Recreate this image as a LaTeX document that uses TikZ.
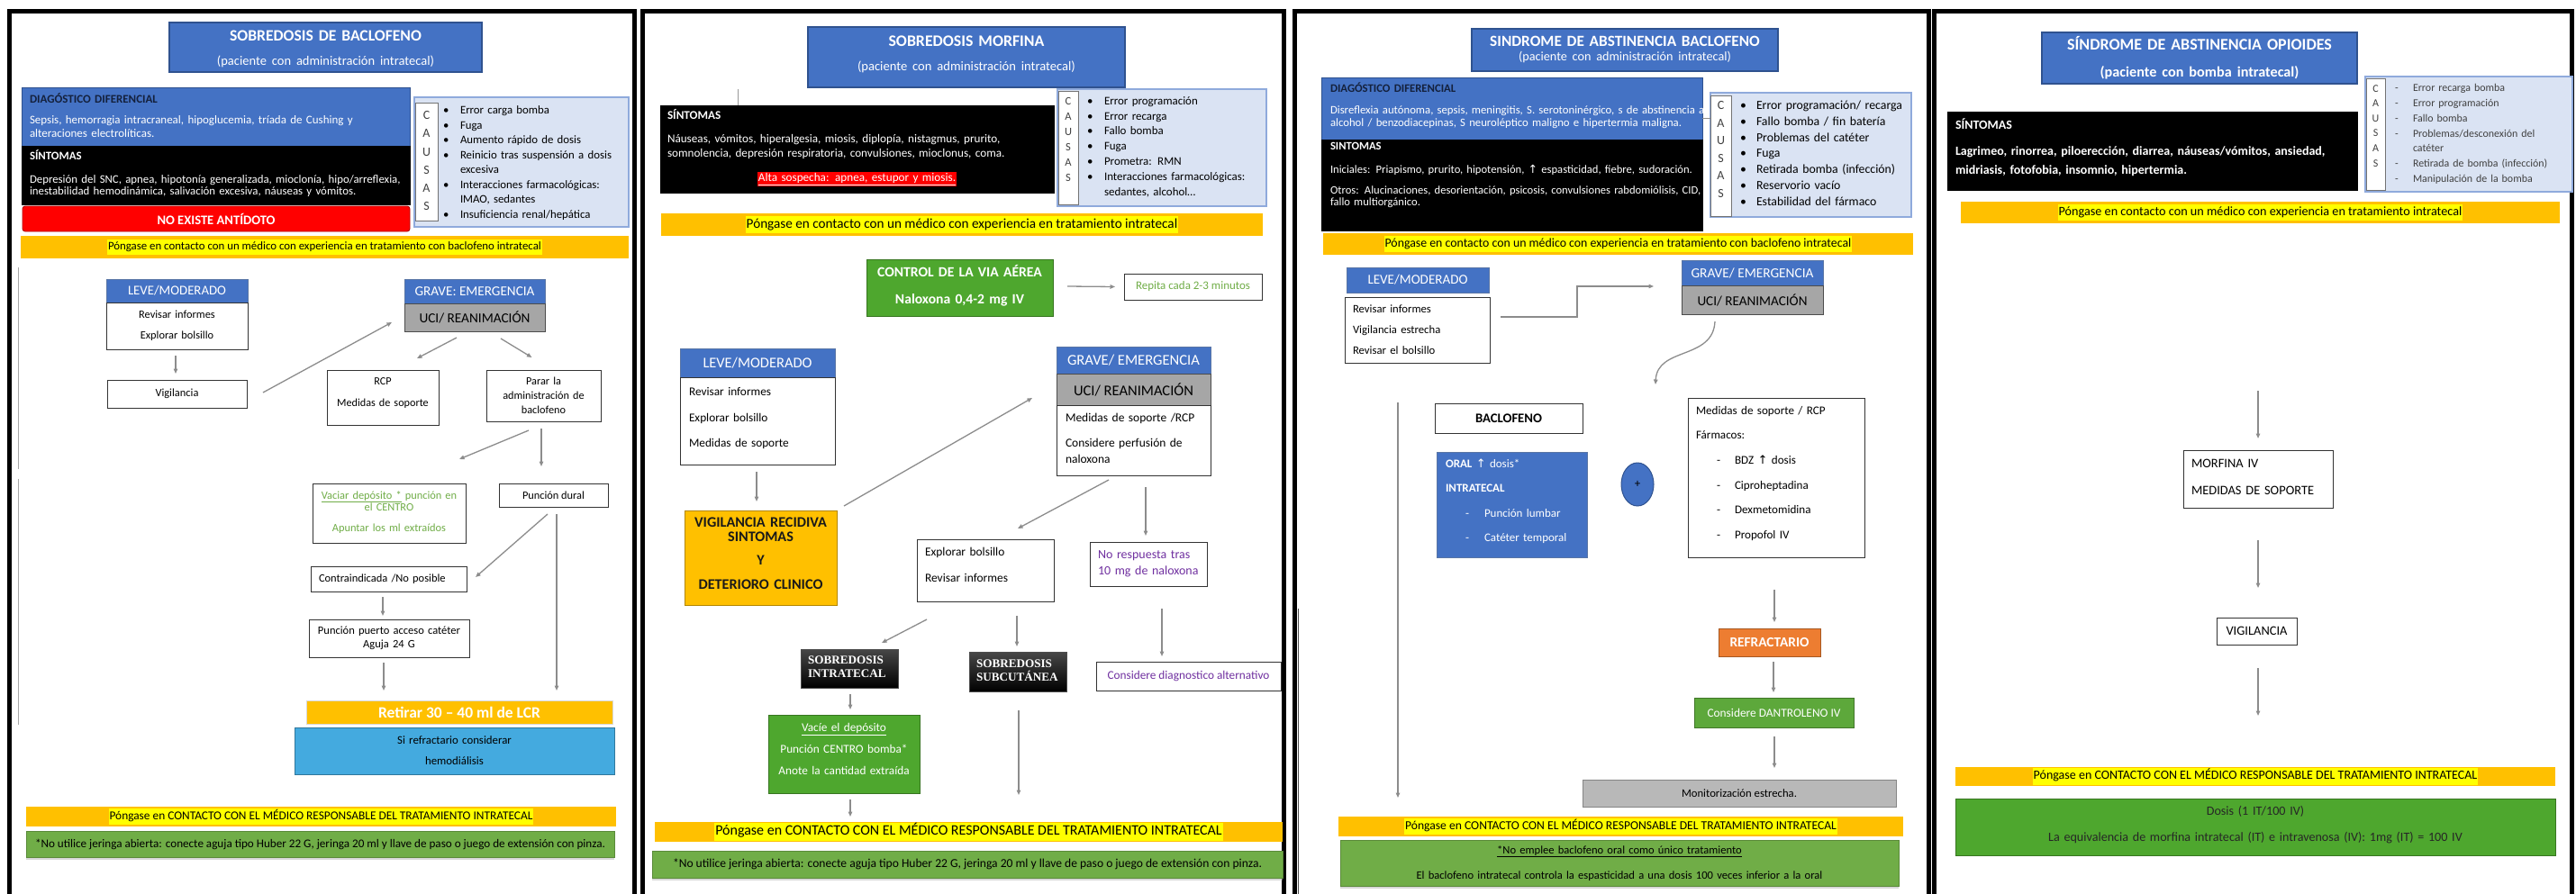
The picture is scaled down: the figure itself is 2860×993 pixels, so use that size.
\documentclass[tikz,border=0pt]{standalone}
\usepackage{fontspec}
\setmainfont{Carlito}
\newfontfamily\djv{DejaVu Sans}
\newfontfamily\lsr{Liberation Serif}
\usetikzlibrary{arrows.meta,shapes.geometric,shadows}
\definecolor{bblue}{HTML}{4472C4}
\definecolor{dblue}{HTML}{2F528F}
\definecolor{orng}{HTML}{FFC000}
\definecolor{hyel}{HTML}{FFFF00}
\definecolor{olive}{HTML}{70AD47}
\definecolor{bgreen}{HTML}{4EA72E}
\definecolor{mgreen}{HTML}{5DA83B}
\definecolor{sky}{HTML}{44AADF}
\definecolor{gry}{HTML}{A6A6A6}
\definecolor{redo}{HTML}{ED7D31}
\definecolor{purp}{HTML}{7030A0}
\definecolor{cfill}{HTML}{DAE3F3}
\definecolor{cline}{HTML}{8FAADC}
\definecolor{navy}{HTML}{14213D}
\definecolor{arrc}{HTML}{8C8C8C}
\definecolor{dgray}{HTML}{404040}
\definecolor{bred}{HTML}{FF0000}
\newcommand\fs[2]{\fontsize{#1}{#2}\selectfont}
\newcommand\setfit[3]{\setbox0\hbox{\fontsize{10}{12}\selectfont#2}\pgfmathsetmacro\fsz{10*#1/\the\wd0}\fontsize{\fsz}{#3}\selectfont}
\newcommand\FW[2]{{\setbox0\hbox{\fontsize{10}{12}\selectfont#2}\pgfmathsetmacro\fsz{10*#1/\the\wd0}\pgfmathsetmacro\fbs{1.2*\fsz}\fontsize{\fsz}{\fbs}\selectfont#2}}
\newcommand\hl[1]{{\setlength\fboxsep{0.8pt}\colorbox{hyel}{\strut #1}}}
\newcommand\up{{\djv ↑}}
\newcommand\bul[1][19pt]{\makebox[#1][l]{\textbullet}}
\newcommand\ind[1][19pt]{\hspace*{#1}}
\newcommand\dsh{\makebox[20pt][l]{-}}
\newcommand\Bx[7][]{\node[rbox,#1,minimum width={#5-#3},minimum height={#6-#4}] (#2) at ({(#3+#5)/2},{(#4+#6)/2}) {#7};}
\newcommand\Tx[5][]{\node[tx,#1] (#2) at (#3,#4) {#5};}
\begin{document}
\begin{tikzpicture}[x=1pt,y=-1pt,
 rbox/.style={draw=black!80,line width=0.9pt,fill=white,inner sep=0pt,outer sep=0pt},
 tx/.style={anchor=base west,inner sep=0pt,outer sep=0pt,align=left,text width=460pt},
 txc/.style={anchor=base,align=center,text width=700pt},
 arr/.style={draw=arrc,line width=1.3pt,-{Triangle[length=5.5pt,width=4.5pt]}},
 frame/.style={line width=5pt,draw=black},
 shd/.style={drop shadow={shadow xshift=0pt,shadow yshift=-3pt,fill=black!30}},
 blk/.style={top color=black!72,middle color=black,bottom color=black,draw=black!70}]
\useasboundingbox (0,0) rectangle (2860,993);
% ---------- frames
\draw[frame] (10,993) -- (10,12) -- (704,12) -- (704,993);
\draw[frame] (713,993) -- (713,12) -- (1425,12) -- (1425,993);
\draw[frame] (1437,993) -- (1437,12) -- (2141,12) -- (2141,993);
\draw[frame] (2147,993) -- (2147,12) -- (2855,12) -- (2855,993);
\draw[line width=0.8pt,black!35] (20,297) -- (20,521) (20,532) -- (20,805);
\draw[line width=0.8pt,black!70] (1441,676) -- (1441,993);
% =============== PANEL 1
\Bx[fill=bblue,draw=dblue,line width=1.5pt]{t1}{188}{25}{535}{80}{}
\Tx[txc,font={\bfseries\setfit{209}{SOBREDOSIS DE BACLOFENO}{26.6}},text=white]{t1t}{361.5}{45.5}{SOBREDOSIS DE BACLOFENO\\\mdseries\setfit{249}{(paciente con administración intratecal)}{26.6}(paciente con administración intratecal)}
\Bx[fill=bblue,draw=dblue]{dd1}{24}{97}{455}{162}{}
\Tx[font={\setfit{349}{Sepsis, hemorragia intracraneal, hipoglucemia, tríada de Cushing y}{15}},text=white]{dd1t}{33}{114}{\textcolor{navy}{\bfseries DIAGÓSTICO DIFERENCIAL}\\[8pt]Sepsis, hemorragia intracraneal, hipoglucemia, tríada de Cushing y\\alteraciones electrolíticas.}
\Bx[fill=black,draw=black]{s1}{24}{162}{455}{227}{}
\Tx[font={\setfit{402}{Depresión del SNC, apnea, hipotonía generalizada, mioclonía, hipo/arreflexia,}{13}},text=white]{s1t}{33}{177}{\textbf{SÍNTOMAS}\\[13pt]Depresión del SNC, apnea, hipotonía generalizada, mioclonía, hipo/arreflexia,\\inestabilidad hemodinámica, salivación excesiva, náuseas y vómitos.}
\Bx[fill=bred,draw=bred!70!black,rounded corners=3pt,font=\bfseries,text=white]{na1}{25}{229}{455}{257}{\FW{131}{NO EXISTE ANTÍDOTO}}
\Bx[fill=cfill,draw=cline,line width=1.2pt]{c1}{460}{108}{698}{252}{}
\Bx[draw=black!55,line width=0.7pt]{c1s}{461}{114}{486}{245}{}
\Tx[txc,text width=20pt,font=\fs{14}{20.2},text=dgray]{c1l}{473.5}{132.6}{C\\A\\U\\S\\A\\S}
\Tx[font={\setfit{130}{Aumento rápido de dosis}{16.57}}]{c1i}{492}{126.5}{\bul Error carga bomba\\\bul Fuga\\\bul Aumento rápido de dosis\\\bul\makebox[177pt][s]{Reinicio tras suspensión a dosis}\\\ind excesiva\\\bul\makebox[177pt][s]{Interacciones farmacológicas:}\\\ind IMAO, sedantes\\\bul Insuficiencia renal/hepática}
\Bx[fill=orng,draw=none]{o1}{23}{262}{698}{287}{\FW{483}{\hl{Póngase en contacto con un médico con experiencia en tratamiento con baclofeno intratecal}}}
\Bx[fill=bblue,draw=dblue!80,text=white]{lh1}{118}{310}{275}{336}{\FW{109}{LEVE/MODERADO}}
\Bx{lb1}{118}{336}{275}{388}{}
\Tx[txc,font={\setfit{80}{Explorar bolsillo}{23}}]{lb1t}{196.5}{353.3}{Revisar informes\\Explorar bolsillo}
\Bx{v1}{119}{422}{274}{453}{\FW{48}{Vigilancia}}
\Bx[fill=bblue,draw=dblue!80,text=white]{gh1}{449}{310}{605}{337}{\FW{133}{GRAVE: EMERGENCIA}}
\Bx[fill=gry,draw=black!70]{uci1}{449}{337}{605}{368}{\FW{123}{UCI/ REANIMACIÓN}}
\Bx{rcp1}{363}{411}{487}{472}{}
\Tx[txc,font={\setfit{99}{Medidas de soporte}{24}}]{rcp1t}{425}{427.2}{RCP\\Medidas de soporte}
\Bx{par1}{540}{411}{667}{468}{}
\Tx[txc,font={\setfit{89}{administración de}{16}}]{par1t}{603.5}{427.2}{Parar la\\administración de\\baclofeno}
\Bx{vac1}{347}{537}{517}{603}{}
\Tx[txc,font={\setfit{145}{Vaciar depósito * punción en}{13}},text=olive]{vac1t}{432}{554.2}{\underline{Vaciar depósito *} punción en\\el CENTRO\\[10pt]Apuntar los ml extraídos}
\Bx{dur1}{554}{537}{675}{563}{\FW{69}{Punción dural}}
\Bx{con1}{345}{629}{518}{657}{}
\Tx[font={\setfit{138}{Contraindicada /No posible}{13}}]{con1t}{354}{646.2}{Contraindicada /No posible}
\Bx{pue1}{343}{688}{521}{730}{}
\Tx[txc,font={\setfit{154}{Punción puerto acceso catéter}{15}}]{pue1t}{432}{704.2}{Punción puerto acceso catéter\\Aguja 24 G}
\Bx[fill=orng,draw=black!15,font=\bfseries,text=white]{ret1}{340}{778}{680}{804}{\FW{180}{Retirar 30 – 40 ml de LCR}}
\Bx[fill=sky,draw=sky!70!black]{rf1}{327}{808}{682}{860}{}
\Tx[txc,font={\setfit{124}{Si refractario considerar}{23}}]{rf1t}{504.5}{826}{Si refractario considerar\\hemodiálisis}
\Bx[fill=orng,draw=none]{bo1}{29}{896}{684}{918}{\FW{472}{\hl{Póngase en CONTACTO CON EL MÉDICO RESPONSABLE DEL TRATAMIENTO INTRATECAL}}}
\Bx[fill=olive,draw=olive!80!black,shd]{gr1}{29}{923}{682}{952}{\FW{633}{*No utilice jeringa abierta: conecte aguja tipo Huber 22 G, jeringa 20 ml y llave de paso o juego de extensión con pinza.}}
% arrows P1
\draw[arr] ([shift={(-1.5,7)}]lb1.south) -- ([shift={(-1.5,-7)}]v1.north);
\draw[arr] ([shift={(18,-1.5)}]v1.east) -- ([shift={(-14,5.5)}]uci1.west);
\draw[arr] ([shift={(-20,7)}]uci1.south) -- ([shift={(38,-13)}]rcp1.north);
\draw[arr] ([shift={(29,8)}]uci1.south) -- ([shift={(-13,-14)}]par1.north);
\draw[arr] ([shift={(-16.5,10)}]par1.south) -- ([shift={(78,-27)}]vac1.north);
\draw[arr] ([shift={(-2.5,8)}]par1.south) -- ([shift={(-13.5,-19)}]dur1.north);
\draw[arr] ([shift={(-6.5,8)}]dur1.south) -- ([shift={(10,-2)}]con1.east);
\draw[arr] ([shift={(3.5,8)}]dur1.south) -- ([shift={(108,-11)}]ret1.north);
\draw[arr] ([shift={(-6.5,6)}]con1.south) -- ([shift={(-7,-4)}]pue1.north);
\draw[arr] ([shift={(-6,6)}]pue1.south) -- ([shift={(-84,-11)}]ret1.north);
% =============== PANEL 2
\Bx[fill=bblue,draw=dblue,line width=1.5pt]{t2}{897}{30}{1249}{97}{}
\Tx[txc,font={\bfseries\setfit{171}{SOBREDOSIS MORFINA}{26.5}},text=white]{t2t}{1073}{51.5}{SOBREDOSIS MORFINA\\\mdseries\setfit{250}{(paciente con administración intratecal)}{26.5}(paciente con administración intratecal)}
\Bx[fill=black,draw=black]{s2}{733}{117}{1170}{214}{}
\Tx[font={\setfit{361}{Náuseas, vómitos, hiperalgesia, miosis, diplopía, nistagmus, prurito,}{16}},text=white]{s2t}{741}{132.5}{\textbf{SÍNTOMAS}\\[10pt]Náuseas, vómitos, hiperalgesia, miosis, diplopía, nistagmus, prurito,\\somnolencia, depresión respiratoria, convulsiones, mioclonus, coma.\\[11pt]\makebox[421pt]{{\setlength\fboxsep{1pt}\colorbox{bred}{\underline{Alta sospecha: apnea, estupor y miosis.}}}}}
\draw[line width=0.8pt,black!40] ([shift={(-132.5,0)}]s2.north) -- ++(0,-18);
\Bx[fill=cfill,draw=cline,line width=1.2pt]{c2}{1174}{99}{1406}{229}{}
\Bx[draw=black!55,line width=0.7pt]{c2s}{1175}{101}{1197}{227}{}
\Tx[txc,text width=20pt,font=\fs{12.5}{17},text=dgray]{c2l}{1186}{116.1}{C\\A\\U\\S\\A\\S}
\Tx[font={\setfit{155}{Interacciones farmacológicas:}{16.8}}]{c2i}{1207}{116.3}{\bul Error programación\\\bul Error recarga\\\bul Fallo bomba\\\bul Fuga\\\bul Prometra: RMN\\\bul Interacciones farmacológicas:\\\ind sedantes, alcohol…}
\Bx[fill=orng,draw=none]{o2}{734}{237}{1402}{262}{\FW{481}{\hl{Póngase en contacto con un médico con experiencia en tratamiento intratecal}}}
\Bx[fill=bgreen,draw=bgreen!70!black]{ct2}{962}{288}{1169}{351}{}
\Tx[txc,font={\bfseries\setfit{176}{CONTROL DE LA VIA AÉREA}{30}},text=white]{ct2t}{1065.5}{307.8}{CONTROL DE LA VIA AÉREA\\Naloxona 0,4-2 mg IV}
\Bx[text=olive]{rp2}{1248}{304}{1401}{333}{\FW{127}{Repita cada 2-3 minutos}}
\Bx[fill=bblue,draw=dblue!80,text=white]{lh2}{755}{387}{927}{419}{\FW{121}{LEVE/MODERADO}}
\Bx{lb2}{755}{419}{927}{516}{}
\Tx[font={\setfit{108}{Medidas de soporte}{28.5}}]{lb2t}{765}{439.5}{Revisar informes\\Explorar bolsillo\\Medidas de soporte}
\Bx[fill=bblue,draw=dblue!80,text=white]{gh2}{1173}{385}{1344}{415}{\FW{147}{GRAVE/ EMERGENCIA}}
\Bx[fill=gry,draw=black!70]{uci2}{1173}{415}{1344}{450}{\FW{133}{UCI/ REANIMACIÓN}}
\Bx{gb2}{1173}{450}{1344}{528}{}
\Tx[font={\setfit{139}{Medidas de soporte /RCP}{18}}]{gb2t}{1183}{468.5}{Medidas de soporte /RCP\\[10pt]Considere perfusión de\\naloxona}
\Bx[fill=orng,draw=orng!70!black]{vg2}{760}{567}{929}{672}{}
\Tx[txc,font={\bfseries\setfit{145}{VIGILANCIA RECIDIVA}{16}},text=black!90]{vg2t}{844.5}{585.5}{VIGILANCIA RECIDIVA\\SINTOMAS\\[10pt]Y\\[11pt]DETERIORO CLINICO}
\Bx{ex2}{1018}{599}{1170}{668}{}
\Tx[font={\setfit{87}{Explorar bolsillo}{29}}]{ex2t}{1027}{617.5}{Explorar bolsillo\\Revisar informes}
\Bx{nr2}{1210}{602}{1340}{651}{}
\Tx[font={\setfit{107}{10 mg de naloxona}{18}},text=purp]{nr2t}{1219}{620.3}{No respuesta tras\\10 mg de naloxona}
\Bx[text=purp]{cd2}{1217}{735}{1422}{767}{\FW{180}{Considere diagnostico alternativo}}
\Bx[blk]{in2}{889}{721}{997}{764}{}
\Tx[font={\lsr\bfseries\setfit{84}{SOBREDOSIS}{15}},text=white]{in2t}{897}{737}{SOBREDOSIS\\INTRATECAL}
\Bx[blk]{sc2}{1076}{724}{1184}{768}{}
\Tx[font={\lsr\bfseries\setfit{84}{SOBREDOSIS}{15}},text=white]{sc2t}{1084}{741}{SOBREDOSIS\\SUBCUTÁNEA}
\Bx[fill=bgreen,draw=bgreen!70!black]{va2}{853}{794}{1021}{881}{}
\Tx[txc,font={\setfit{141}{Anote la cantidad extraída}{24}},text=white]{va2t}{937}{812.3}{\underline{Vacíe el depósito}\\Punción CENTRO bomba*\\Anote la cantidad extraída}
\Bx[fill=orng,draw=none]{bo2}{727}{913}{1424}{935}{\FW{565}{\hl{Póngase en CONTACTO CON EL MÉDICO RESPONSABLE DEL TRATAMIENTO INTRATECAL}}}
\Bx[fill=olive,draw=olive!80!black,shd]{gr2}{724}{945}{1424}{975}{\FW{654}{*No utilice jeringa abierta: conecte aguja tipo Huber 22 G, jeringa 20 ml y llave de paso o juego de extensión con pinza.}}
% arrows P2
\draw[arr] ([shift={(16,-1.5)}]ct2.east) -- ([shift={(-10,0)}]rp2.west);
\draw[arr] ([shift={(-1,8)}]lb2.south) -- ([shift={(-4.5,-10)}]vg2.north);
\draw[arr] ([shift={(8,-5)}]vg2.north east) -- ([shift={(-27,9.5)}]uci2.west);
\draw[arr] ([shift={(-27.5,5)}]gb2.south) -- ([shift={(36,-12)}]ex2.north);
\draw[arr] ([shift={(13.5,13)}]gb2.south) -- ([shift={(-3,-7)}]nr2.north);
\draw[arr] ([shift={(15,25)}]nr2.south) -- ([shift={(-29.5,-6)}]cd2.north);
\draw[arr] ([shift={(-65,20)}]ex2.south) -- ([shift={(36,-7)}]in2.north);
\draw[arr] ([shift={(35,16)}]ex2.south) -- ([shift={(-1,-6)}]sc2.north);
\draw[arr] ([shift={(1,7)}]in2.south) -- ([shift={(7,-6)}]va2.north);
\draw[arr] ([shift={(7,7)}]va2.south) -- ([shift={(-131.5,-6)}]bo2.north);
\draw[arr] ([shift={(1,21)}]sc2.south) -- ([shift={(55.5,-30)}]bo2.north);
% =============== PANEL 3
\Bx[fill=bblue,draw=dblue,line width=1.5pt]{t3}{1634}{32}{1974}{79}{}
\Tx[txc,font={\bfseries\setfit{294}{SINDROME DE ABSTINENCIA BACLOFENO}{16.6}},text=white]{t3t}{1804}{51.3}{SINDROME DE ABSTINENCIA BACLOFENO\\\mdseries\setfit{243}{(paciente con administración intratecal)}{16.6}(paciente con administración intratecal)}
\Bx[fill=bblue,draw=dblue]{dd3}{1467}{86}{1890}{155}{}
\Tx[font={\setfit{403}{Disreflexia autónoma, sepsis, meningitis, S. serotoninérgico, s de abstinencia a}{14}},text=white]{dd3t}{1477}{102}{\textcolor{navy}{\bfseries DIAGÓSTICO DIFERENCIAL}\\[10pt]Disreflexia autónoma, sepsis, meningitis, S. serotoninérgico, s de abstinencia a\\alcohol / benzodiacepinas, S neuroléptico maligno e hipertermia maligna.}
\Bx[fill=black,draw=black]{s3}{1467}{155}{1890}{256}{}
\Tx[font={\setfit{402}{Otros: Alucinaciones, desorientación, psicosis, convulsiones rabdomiólisis, CID,}{13}},text=white]{s3t}{1477}{166}{\textbf{SINTOMAS}\\[13pt]Iniciales: Priapismo, prurito, hipotensión, \up{} espasticidad, fiebre, sudoración.\\[10pt]Otros: Alucinaciones, desorientación, psicosis, convulsiones rabdomiólisis, CID,\\fallo multiorgánico.}
\Bx[fill=cfill,draw=cline,line width=1.2pt]{c3}{1899}{103}{2122}{241}{}
\Bx[draw=black!55,line width=0.7pt]{c3s}{1899}{106}{1922}{240}{}
\Tx[txc,text width=20pt,font=\fs{14}{19.5},text=dgray]{c3l}{1910.5}{121.6}{C\\A\\U\\S\\A\\S}
\Tx[font={\setfit{159}{Error programación/ recarga}{17.8}}]{c3i}{1932}{121.5}{\bul[18pt]Error programación/ recarga\\\bul[18pt]Fallo bomba / fin batería\\\bul[18pt]Problemas del catéter\\\bul[18pt]Fuga\\\bul[18pt]Retirada bomba (infección)\\\bul[18pt]Reservorio vacío\\\bul[18pt]Estabilidad del fármaco}
\draw[line width=1pt,black!45] ([shift={(0,10.5)}]dd3.east) -- ++(9,0);
\Bx[fill=orng,draw=none]{o3}{1469}{259}{2124}{283}{\FW{520}{\hl{Póngase en contacto con un médico con experiencia en tratamiento con baclofeno intratecal}}}
\Bx[fill=bblue,draw=dblue!80,text=white]{lh3}{1495}{297}{1653}{325}{\FW{111}{LEVE/MODERADO}}
\Bx{lb3}{1493}{330}{1654}{403}{}
\Tx[font={\setfit{96}{Vigilancia estrecha}{23}}]{lb3t}{1502}{347.3}{Revisar informes\\Vigilancia estrecha\\Revisar el bolsillo}
\Bx[fill=bblue,draw=dblue!80,text=white]{gh3}{1867}{289}{2024}{317}{\FW{136}{GRAVE/ EMERGENCIA}}
\Bx[fill=gry,draw=black!70]{uci3}{1867}{317}{2024}{349}{\FW{122}{UCI/ REANIMACIÓN}}
\Bx[font=\bfseries]{bac3}{1593}{448}{1757}{481}{\FW{74}{BACLOFENO}}
\Bx[fill=bblue,draw=dblue!80]{or3}{1595}{502}{1762}{619}{}
\Tx[font={\setfit{90}{Catéter temporal}{27.3}},text=white]{or3t}{1605}{519.5}{\textbf{ORAL} \up{} dosis*\\\textbf{INTRATECAL}\\\hspace*{22pt}\makebox[21pt][l]{-}Punción lumbar\\\hspace*{22pt}\makebox[21pt][l]{-}Catéter temporal}
\node[ellipse,fill=bblue,draw=dblue,line width=1pt,minimum width=36pt,minimum height=48pt,inner sep=0pt,font=\fs{13}{15}] (pl3) at (1818,538) {+};
\Bx{md3}{1874}{442}{2070}{619}{}
\Tx[font={\setfit{138}{Medidas de soporte / RCP}{27.6}}]{md3t}{1883}{460.3}{Medidas de soporte / RCP\\Fármacos:\\\hspace*{23pt}\dsh BDZ \up{} dosis\\\hspace*{23pt}\dsh Ciproheptadina\\\hspace*{23pt}\dsh Dexmetomidina\\\hspace*{23pt}\dsh Propofol IV}
\Bx[fill=redo,draw=redo!70!black,font=\bfseries,text=white]{rf3}{1908}{698}{2021}{729}{\FW{88}{REFRACTARIO}}
\Bx[fill=mgreen,draw=mgreen!70!black,text=white]{dt3}{1881}{775}{2058}{808}{\FW{148}{Considere DANTROLENO IV}}
\Bx[fill=gry!80,draw=gry!80!black]{mo3}{1757}{866}{2105}{896}{\FW{128}{Monitorización estrecha.}}
\Bx[fill=orng,draw=none]{bo3}{1486}{907}{2113}{929}{\FW{481}{\hl{Póngase en CONTACTO CON EL MÉDICO RESPONSABLE DEL TRATAMIENTO INTRATECAL}}}
\Bx[fill=olive,draw=olive!80!black,shd]{gr3}{1488}{933}{2108}{984}{}
\Tx[txc,font={\setfit{432}{El baclofeno intratecal controla la espasticidad a una dosis 100 veces inferior a la oral}{28}}]{gr3t}{1798}{948}{\underline{*No emplee baclofeno oral como único tratamiento}\\El baclofeno intratecal controla la espasticidad a una dosis 100 veces inferior a la oral}
% arrows P3
\draw[arr] ([shift={(12,-14.5)}]lb3.east) -- ++(85,0) -- ++(0,-34) -- ([shift={(-31,1)}]gh3.south west);
\draw[arr] ([shift={(-41.5,8)}]uci3.south) .. controls (1902,400) and (1840,385) .. ([shift={(-36,-15)}]md3.north west);
\draw[arr] ([shift={(-21.5,44)}]lb3.south) -- ([shift={(-247.5,-21)}]bo3.north);
\draw[arr] ([shift={(-2,36)}]md3.south) -- ([shift={(5.5,-7)}]rf3.north);
\draw[arr] ([shift={(4.5,6)}]rf3.south) -- ([shift={(-0.5,-6)}]dt3.north);
\draw[arr] ([shift={(0.5,10)}]dt3.south) -- ([shift={(39,-13)}]mo3.north);
% =============== PANEL 4
\Bx[fill=bblue,draw=dblue,line width=1.5pt]{t4}{2267}{36}{2617}{93}{}
\Tx[txc,font={\bfseries\setfit{288}{SÍNDROME DE ABSTINENCIA OPIOIDES}{30}},text=white]{t4t}{2442}{55.3}{SÍNDROME DE ABSTINENCIA OPIOIDES\\\setfit{232}{(paciente con bomba intratecal)}{30}(paciente con bomba intratecal)}
\Bx[fill=black,draw=black]{s4}{2162}{124}{2617}{211}{}
\Tx[font={\bfseries\setfit{403}{Lagrimeo, rinorrea, piloerección, diarrea, náuseas/vómitos, ansiedad,}{21}},text=white]{s4t}{2171}{143.3}{SÍNTOMAS\\[8pt]Lagrimeo, rinorrea, piloerección, diarrea, náuseas/vómitos, ansiedad,\\midriasis, fotofobia, insomnio, hipertermia.}
\Bx[fill=cfill,draw=cline,line width=1.2pt]{c4}{2626}{85}{2856}{213}{}
\Bx[draw=black!55,line width=0.7pt]{c4s}{2627}{87}{2648}{211}{}
\Tx[txc,text width=20pt,font=\fs{12}{16.6},text=dgray]{c4l}{2637.5}{102}{C\\A\\U\\S\\A\\S}
\Tx[font={\setfit{134}{Problemas/desconexión del}{16.8}},text=dgray]{c4i}{2659}{101.7}{\dsh Error recarga bomba\\\dsh Error programación\\\dsh Fallo bomba\\\dsh Problemas/desconexión del\\\ind[20pt]catéter\\\dsh Retirada de bomba (infección)\\\dsh Manipulación de la bomba}
\Bx[fill=orng,draw=none]{o4}{2177}{224}{2842}{248}{\FW{450}{\hl{Póngase en contacto con un médico con experiencia en tratamiento intratecal}}}
\coordinate (a4s) at (2507,434);
\Bx{mf4}{2424}{500}{2590}{564}{}
\Tx[font={\setfit{133}{MEDIDAS DE SOPORTE}{30}}]{mf4t}{2433}{519.5}{MORFINA IV\\MEDIDAS DE SOPORTE}
\Bx{vg4}{2461}{686}{2550}{716}{\FW{68}{VIGILANCIA}}
\Bx[fill=orng,draw=none]{bo4}{2171}{852}{2837}{873}{\FW{495}{\hl{Póngase en CONTACTO CON EL MÉDICO RESPONSABLE DEL TRATAMIENTO INTRATECAL}}}
\Bx[fill=bgreen,draw=bgreen!70!black]{gr4}{2171}{887}{2837}{950}{}
\Tx[txc,font={\setfit{440}{La equivalencia de morfina intratecal (IT) e intravenosa (IV): 1mg (IT) = 100 IV}{29}},text=black!85]{gr4t}{2504}{905}{Dosis (1 IT/100 IV)\\La equivalencia de morfina intratecal (IT) e intravenosa (IV): 1mg (IT) = 100 IV}
% arrows P4
\draw[arr] (a4s) -- ([shift={(0,-13)}]mf4.north);
\draw[arr] ([shift={(0,36)}]mf4.south) -- ([shift={(1.5,-33)}]vg4.north);
\draw[arr] ([shift={(1.5,26)}]vg4.south) -- ([shift={(3,-57)}]bo4.north);
\end{tikzpicture}
\end{document}
